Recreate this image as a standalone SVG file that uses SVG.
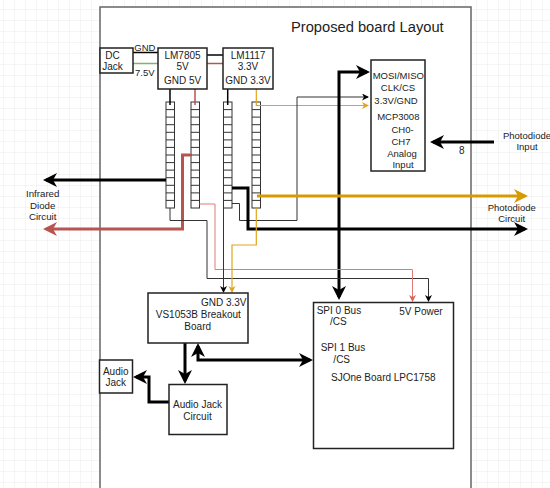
<svg xmlns="http://www.w3.org/2000/svg" width="550" height="488" viewBox="0 0 550 488">
<defs>
<pattern id="grid" x="3" y="9" width="11" height="11" patternUnits="userSpaceOnUse">
<path d="M11,0 L0,0 L0,11" fill="none" stroke="#ececec" stroke-width="1"/>
</pattern>
<marker id="aK" markerUnits="userSpaceOnUse" markerWidth="15" markerHeight="14" refX="11" refY="7" orient="auto" viewBox="0 0 15 14"><path d="M0,0 L14,7 L0,14 L4,7 z" fill="#000"/></marker>
<marker id="aKs" markerUnits="userSpaceOnUse" markerWidth="15" markerHeight="14" refX="11" refY="7" orient="auto-start-reverse" viewBox="0 0 15 14"><path d="M0,0 L14,7 L0,14 L4,7 z" fill="#000"/></marker>
<marker id="aR" markerUnits="userSpaceOnUse" markerWidth="15" markerHeight="14" refX="11" refY="7" orient="auto" viewBox="0 0 15 14"><path d="M0,0 L14,7 L0,14 L4,7 z" fill="#b85450"/></marker>
<marker id="aG" markerUnits="userSpaceOnUse" markerWidth="15" markerHeight="14" refX="11" refY="7" orient="auto" viewBox="0 0 15 14"><path d="M0,0 L14,7 L0,14 L4,7 z" fill="#d79b00"/></marker>
<marker id="tK" markerUnits="userSpaceOnUse" markerWidth="8" markerHeight="8" refX="6" refY="3.5" orient="auto" viewBox="0 0 8 8"><path d="M0,0 L7,3.5 L0,7 L2,3.5 z" fill="#000"/></marker>
<marker id="tR" markerUnits="userSpaceOnUse" markerWidth="8" markerHeight="8" refX="6" refY="3.5" orient="auto" viewBox="0 0 8 8"><path d="M0,0 L7,3.5 L0,7 L2,3.5 z" fill="#d9625e"/></marker>
<marker id="tG" markerUnits="userSpaceOnUse" markerWidth="8" markerHeight="8" refX="6" refY="3.5" orient="auto" viewBox="0 0 8 8"><path d="M0,0 L7,3.5 L0,7 L2,3.5 z" fill="#e0a520"/></marker>
</defs>
<style>
text{font-family:"Liberation Sans",Arial,sans-serif;font-size:10px;fill:#222}
.m{text-anchor:middle}
.e{text-anchor:end}
.box{fill:#fff;stroke:#222;stroke-width:1.5}
.hdr{fill:#fff;stroke:#333;stroke-width:1}
.w{fill:none;stroke-linejoin:miter}
.thk{stroke:#000;stroke-width:3}
.thr{stroke:#b85450;stroke-width:3}
.thg{stroke:#d79b00;stroke-width:3}
.tk{stroke:#333;stroke-width:1}
.tr{stroke:#e07a76;stroke-width:1}
.tg{stroke:#e0a520;stroke-width:1.2}
</style>
<rect x="0" y="0" width="550" height="488" fill="#fff"/>
<rect x="0" y="0" width="550" height="488" fill="url(#grid)"/>
<g id="frame">
<rect x="100" y="7" width="371" height="500" fill="#fff" stroke="#666" stroke-width="1.5"/>
<text x="291" y="32" style="font-size:14.7px">Proposed board Layout</text>
</g>
<g id="headers">
<rect class="hdr" x="166" y="102" width="8.5" height="106"/>
<rect class="hdr" x="191" y="102" width="8.5" height="106"/>
<rect class="hdr" x="223.5" y="102" width="8.5" height="106"/>
<rect class="hdr" x="252" y="102" width="8.5" height="106"/>
<path fill="none" stroke="#333" stroke-width="1" d="M166,109.6h8.5M166,117.1h8.5M166,124.7h8.5M166,132.3h8.5M166,139.9h8.5M166,147.4h8.5M166,155h8.5M166,162.6h8.5M166,170.1h8.5M166,177.7h8.5M166,185.3h8.5M166,192.9h8.5M166,200.4h8.5 M191,109.6h8.5M191,117.1h8.5M191,124.7h8.5M191,132.3h8.5M191,139.9h8.5M191,147.4h8.5M191,155h8.5M191,162.6h8.5M191,170.1h8.5M191,177.7h8.5M191,185.3h8.5M191,192.9h8.5M191,200.4h8.5 M223.5,109.6h8.5M223.5,117.1h8.5M223.5,124.7h8.5M223.5,132.3h8.5M223.5,139.9h8.5M223.5,147.4h8.5M223.5,155h8.5M223.5,162.6h8.5M223.5,170.1h8.5M223.5,177.7h8.5M223.5,185.3h8.5M223.5,192.9h8.5M223.5,200.4h8.5 M252,109.6h8.5M252,117.1h8.5M252,124.7h8.5M252,132.3h8.5M252,139.9h8.5M252,147.4h8.5M252,155h8.5M252,162.6h8.5M252,170.1h8.5M252,177.7h8.5M252,185.3h8.5M252,192.9h8.5M252,200.4h8.5"/>
</g>
<g id="connectors">
<path class="w" stroke="#000" stroke-width="1.5" d="M133,52.5 H158"/>
<path class="w" stroke="#82b366" stroke-width="1.5" d="M133,63.5 H158"/>
<path class="w" stroke="#000" stroke-width="1.5" d="M207,55 H223"/>
<path class="w" stroke="#b85450" stroke-width="1.5" d="M207,63.5 H223"/>
<path class="w" stroke="#000" stroke-width="1.5" d="M170,89 V105"/>
<path class="w" stroke="#b85450" stroke-width="1.5" d="M195,89 V105"/>
<path class="w" stroke="#000" stroke-width="1.5" d="M227.7,89 V105"/>
<path class="w tg" stroke-width="1.5" d="M256.3,89 V105.5 H368" marker-end="url(#tG)"/>
<path class="w tk" d="M232,203.5 H239.5 V220.5 H297 V97 H368" marker-end="url(#tK)"/>
<path class="w thk" d="M339,297 V72 H367" marker-start="url(#aKs)" marker-end="url(#aK)"/>
<path class="w thg" d="M257,196 H525" marker-end="url(#aG)"/>
<path class="w thk" d="M232,188 H248 V229 H525" marker-end="url(#aK)"/>
<path class="w thk" d="M166,180 H46" marker-end="url(#aK)"/>
<path class="w thr" d="M191,155 H182.5 V229 H46" marker-end="url(#aR)"/>
<path class="w tk" d="M170,208 V220.5 H207 V278.5 H428.5 V301" marker-end="url(#tK)"/>
<path class="w tr" d="M199.5,204 H215 V269.5 H412.5 V301" marker-end="url(#tR)"/>
<path class="w tk" d="M223.5,208 V292" marker-end="url(#tK)"/>
<path class="w tg" d="M256.3,208 V245 H232 V292" marker-end="url(#tG)"/>
<path class="w thk" d="M198,346 V360 H310" marker-start="url(#aKs)" marker-end="url(#aK)"/>
<path class="w thk" d="M185,343 V381" marker-end="url(#aK)"/>
<path class="w thk" d="M169,402 H149 V377 H136" marker-end="url(#aK)"/>
<path class="w thk" d="M494,142 H433" marker-end="url(#aK)"/>
</g>
<g id="dcjack">
<rect class="box" x="100" y="48" width="33" height="25"/>
<text class="m" x="112.5" y="58.5">DC</text>
<text class="m" x="112.5" y="69.5">Jack</text>
<text x="134.3" y="51" style="font-size:9.5px">GND</text>
<text x="135" y="76" style="font-size:9.5px">7.5V</text>
</g>
<g id="lm7805">
<rect class="box" x="158" y="48" width="49" height="41"/>
<text class="m" x="182.5" y="58.5">LM7805</text>
<text class="m" x="182.5" y="70.2">5V</text>
<text class="m" x="182.5" y="84.2">GND 5V</text>
</g>
<g id="lm1117">
<rect class="box" x="223" y="48" width="50" height="41"/>
<text class="m" x="248" y="58.5">LM1117</text>
<text class="m" x="248" y="70.2">3.3V</text>
<text class="m" x="248" y="84.2">GND 3.3V</text>
</g>
<g id="mcp3008">
<rect class="box" x="371" y="60" width="54" height="111"/>
<text class="m" x="398.3" y="78.5" style="font-size:9.5px">MOSI/MISO</text>
<text class="m" x="398" y="91" style="font-size:9.5px">CLK/CS</text>
<text class="m" x="396" y="104" style="font-size:9.5px">3.3V/GND</text>
<text class="m" x="398.3" y="119.5" style="font-size:9.5px">MCP3008</text>
<text class="m" x="402.5" y="133" style="font-size:9.5px">CH0-</text>
<text class="m" x="401" y="145" style="font-size:9.5px">CH7</text>
<text class="m" x="402" y="156.5" style="font-size:9.5px">Analog</text>
<text class="m" x="403" y="168" style="font-size:9.5px">Input</text>
</g>
<g id="photodiode-input">
<text class="m" x="527" y="138.5" style="font-size:9.5px">Photodiode</text>
<text class="m" x="527" y="150" style="font-size:9.5px">Input</text>
<text class="m" x="461.7" y="154">8</text>
</g>
<g id="photodiode-circuit">
<text class="m" x="511.7" y="210.8" style="font-size:9.5px">Photodiode</text>
<text class="m" x="511.7" y="221.8" style="font-size:9.5px">Circuit</text>
</g>
<g id="infrared">
<text class="m" x="42.7" y="196.8" style="font-size:9.7px">Infrared</text>
<text class="m" x="42.7" y="208.5" style="font-size:9.7px">Diode</text>
<text class="m" x="42.7" y="219.5" style="font-size:9.7px">Circuit</text>
</g>
<g id="vs1053b">
<rect class="box" x="148" y="293" width="100" height="50"/>
<text class="e" x="246.5" y="306">GND 3.3V</text>
<text class="m" x="198.3" y="317.8">VS1053B Breakout</text>
<text class="m" x="197.7" y="329.5">Board</text>
</g>
<g id="sjone">
<rect class="box" x="313.5" y="302.5" width="140" height="146"/>
<text x="316.7" y="313.5">SPI 0 Bus</text>
<text class="m" x="338.3" y="324.5">/CS</text>
<text x="399.3" y="315">5V Power</text>
<text x="320.7" y="350.8">SPI 1 Bus</text>
<text class="m" x="341.7" y="362.5">/CS</text>
<text x="331" y="381">SJOne Board LPC1758</text>
</g>
<g id="audio-jack-circuit">
<rect class="box" x="169" y="384.5" width="58" height="50"/>
<text class="m" x="197.5" y="407.8">Audio Jack</text>
<text class="m" x="197.5" y="419.5">Circuit</text>
</g>
<g id="audio-jack">
<rect class="box" x="99.5" y="360" width="33" height="33"/>
<text class="m" x="115.7" y="375.2">Audio</text>
<text class="m" x="115.7" y="386.2">Jack</text>
</g>
</svg>
